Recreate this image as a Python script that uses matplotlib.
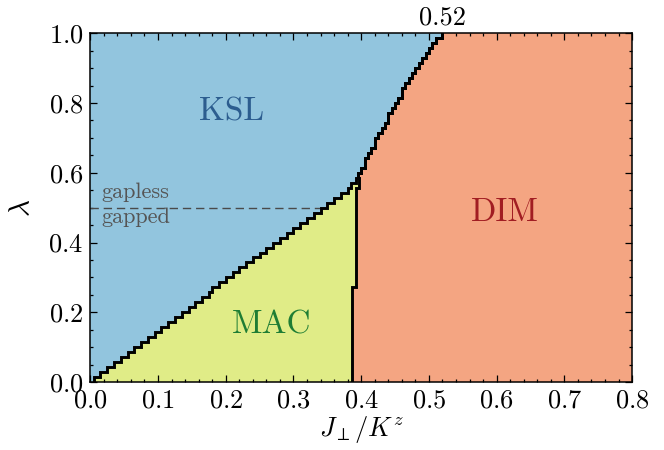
import numpy as np
import matplotlib
matplotlib.use('Agg')
import matplotlib.pyplot as plt
from matplotlib.ticker import MultipleLocator

plt.rcParams['font.family'] = 'serif'
plt.rcParams['font.serif'] = ['cmr10', 'DejaVu Serif']
plt.rcParams['mathtext.fontset'] = 'cm'
plt.rcParams['axes.formatter.use_mathtext'] = True

# lambda rows of the scan (row k spans lam_edges[k] .. lam_edges[k+1])
lam_edges = np.linspace(0.0, 1.0, 71)

# right edge of the KSL phase in each lambda row
j_ksl = [0.005, 0.015, 0.025, 0.035, 0.045, 0.055, 0.065, 0.075, 0.085, 0.095,
         0.105, 0.115, 0.125, 0.135, 0.145, 0.155, 0.165, 0.175, 0.18, 0.19,
         0.20, 0.21, 0.22, 0.23, 0.24, 0.25, 0.26, 0.27, 0.28, 0.29,
         0.30, 0.31, 0.32, 0.33, 0.34, 0.35, 0.36, 0.37, 0.38, 0.385,
         0.393, 0.395, 0.40, 0.405, 0.405, 0.41, 0.415, 0.42, 0.42, 0.425,
         0.43, 0.435, 0.44, 0.44, 0.445, 0.45, 0.455, 0.46, 0.46, 0.465,
         0.47, 0.475, 0.48, 0.485, 0.49, 0.495, 0.50, 0.505, 0.51, 0.52]

# left edge of the DIM phase in each lambda row
j_dim = [0.387] * 19 + [0.392] * 20 + [0.397, 0.397] + j_ksl[41:]

j_crit = 0.52
lam_gap = 0.5
j_gap_end = 0.339

c_ksl = '#92c5de'
c_mac = '#e0ec87'
c_dim = '#f4a582'

def stairs(x, edges):
    xs = np.repeat(x, 2)
    ys = np.column_stack([edges[:-1], edges[1:]]).ravel()
    return xs, ys

fig = plt.figure(figsize=(6.64, 4.5), dpi=100)
ax = fig.add_axes([0.136, 0.151, 0.816, 0.775])

a = np.append(j_ksl, j_ksl[-1])
b = np.append(j_dim, j_dim[-1])
ax.fill_betweenx(lam_edges, 0.0, a, step='post', color=c_ksl, lw=0)
ax.fill_betweenx(lam_edges, a, b, step='post', color=c_mac, lw=0)
ax.fill_betweenx(lam_edges, b, 0.8, step='post', color=c_dim, lw=0)

xs, ys = stairs(np.array(j_ksl), lam_edges)
ax.plot(xs, ys, color='k', lw=2.1, solid_joinstyle='miter', zorder=3)
xs, ys = stairs(np.array(j_dim), lam_edges)
ax.plot(xs, ys, color='k', lw=2.1, solid_joinstyle='miter', zorder=3)

ax.plot([0.0, j_gap_end], [lam_gap, lam_gap], color='#4a4a4a', lw=1.0,
        dashes=(6, 3.5), zorder=2)

ax.text(0.208, 0.773, 'KSL', fontsize=24, color='#2c5d8f', ha='center', va='center')
ax.text(0.268, 0.164, 'MAC', fontsize=24, color='#1f7d34', ha='center', va='center')
ax.text(0.612, 0.487, 'DIM', fontsize=24, color='#a11d22', ha='center', va='center')
ax.text(0.017, 0.527, 'gapless', fontsize=16, color='#555555', ha='left', va='baseline')
ax.text(0.017, 0.455, 'gapped', fontsize=16, color='#555555', ha='left', va='baseline')
ax.text(j_crit, 1.012, '%.2f' % j_crit, fontsize=19, ha='center', va='bottom')

ax.set_xlim(0, 0.8)
ax.set_ylim(0, 1.0)
ax.xaxis.set_major_locator(MultipleLocator(0.1))
ax.xaxis.set_minor_locator(MultipleLocator(0.02))
ax.yaxis.set_major_locator(MultipleLocator(0.2))
ax.yaxis.set_minor_locator(MultipleLocator(0.05))
ax.tick_params(which='both', direction='in', top=True, right=True, width=0.9)
ax.tick_params(which='major', length=5, labelsize=19, pad=5)
ax.tick_params(which='minor', length=2.5)
for s in ax.spines.values():
    s.set_linewidth(1.1)

ax.set_xlabel(r'$J_\perp/K^z$', fontsize=19, labelpad=1)
ax.set_ylabel(r'$\lambda$', fontsize=21, labelpad=9)

fig.savefig('out.png', dpi=100)
